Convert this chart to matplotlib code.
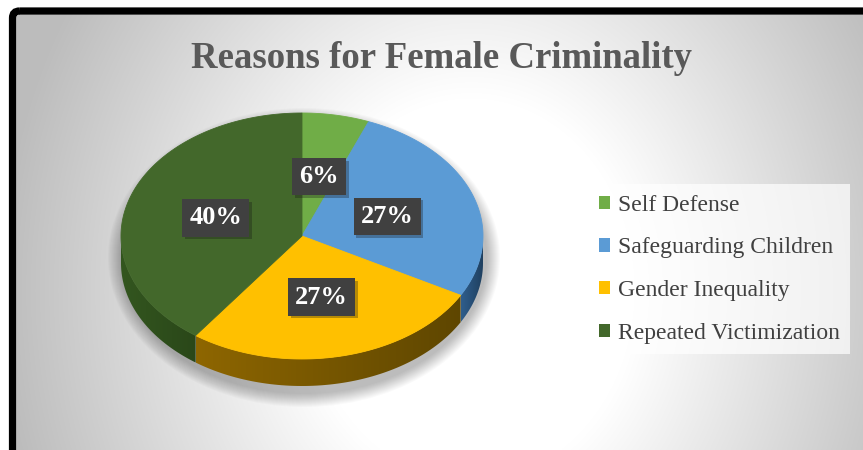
import numpy as np
import matplotlib.pyplot as plt
import matplotlib.patheffects as pe
from matplotlib.patches import Polygon, FancyBboxPatch, Patch, Ellipse
from matplotlib.colors import to_rgb

### Data ######################################################################
categories = ['Self Defense', 'Safeguarding Children', 'Gender Inequality', 'Repeated Victimization']
shares = [6, 27, 27, 40]
top_colors = ['#70AD47', '#5B9BD5', '#FFC000', '#43682B']
# side wall colours (light end, dark end)
side_colors = [('#4A7530', '#365622'), ('#2F5E8C', '#1E3D5C'), ('#8E6600', '#5E4600'), ('#33561F', '#2A4719')]
title = 'Reasons for Female Criminality'

W, H = 863, 450
fig = plt.figure(figsize=(W / 100, H / 100), dpi=100)
ax = fig.add_axes([0, 0, 1, 1])
ax.set_xlim(0, W)
ax.set_ylim(H, 0)
ax.axis('off')

### Background ###############################################################
frame = FancyBboxPatch((12.5, 11), 1000, 600, boxstyle='round,pad=0,rounding_size=7',
                       fc='none', ec='black', lw=5.2, zorder=10)
ax.add_patch(frame)

yy, xx = np.mgrid[0:H, 0:W]
d = np.sqrt(((xx - 470) / 410.0) ** 2 + ((yy - 290) / 480.0) ** 2)
g = 1.0 - 0.21 * np.clip((d - 0.4) / 0.6, 0, 1.25)
bg = ax.imshow(np.dstack([g, g, g]), extent=(0, W, H, 0), zorder=0, interpolation='bilinear')
bg.set_clip_path(frame)

### 3D pie ###################################################################
cx, cy, rx, ry, depth = 302, 236, 181, 123, 27


def pt(a, r=1.0, dy=0.0):
    return cx + r * rx * np.sin(a), cy - r * ry * np.cos(a) + dy


# soft shadow
for k in range(14):
    ax.add_patch(Ellipse((cx + 2, cy + depth / 2 + 8), 2 * rx + 30 - 2 * k, 2 * ry + depth + 26 - 2 * k,
                         fc='black', ec='none', alpha=0.02, zorder=1))

edges = 2 * np.pi * np.cumsum([0] + shares) / sum(shares)

# side walls (front half only)
for i in range(len(shares)):
    a0 = max(edges[i], np.pi / 2)
    a1 = min(edges[i + 1], 3 * np.pi / 2)
    if a0 >= a1:
        continue
    t = np.linspace(a0, a1, 80)
    tx, ty = pt(t)
    bx, by = pt(t[::-1], dy=depth)
    poly = Polygon(np.column_stack([np.r_[tx, bx], np.r_[ty, by]]), closed=True,
                   fc='none', ec='none', zorder=2)
    ax.add_patch(poly)
    c1, c2 = np.array(to_rgb(side_colors[i][0])), np.array(to_rgb(side_colors[i][1]))
    f = np.linspace(0, 1, 256)[None, :, None]
    grad = c1 * (1 - f) + c2 * f
    im = ax.imshow(grad, extent=(tx.min(), tx.max() + 1, cy + ry + depth + 2, cy - 5),
                   zorder=2, aspect='auto', interpolation='bilinear')
    im.set_clip_path(poly)

# top faces
for i in range(len(shares)):
    t = np.linspace(edges[i], edges[i + 1], 120)
    tx, ty = pt(t)
    ax.add_patch(Polygon(np.column_stack([np.r_[cx, tx], np.r_[cy, ty]]), closed=True,
                         fc=top_colors[i], ec=top_colors[i], lw=0.6, zorder=3))

# data labels
for i, s in enumerate(shares):
    mid = (edges[i] + edges[i + 1]) / 2
    lx, ly = pt(mid, 0.5)
    lbl = ax.text(lx, ly + 1, f'{s}%', color='white', fontsize=19, fontweight='bold',
                  family='Liberation Serif', ha='center', va='center', zorder=5,
                  bbox=dict(boxstyle='square,pad=0.27', fc='#404040', ec='none'))
    lbl.get_bbox_patch().set_path_effects([pe.SimplePatchShadow(offset=(2, -2), alpha=0.3),
                                           pe.Normal()])

### Title & legend ###########################################################
ax.text(441, 59, title, ha='center', va='center', fontsize=26.5, fontweight='bold',
        family='Liberation Serif', color='#595959', zorder=6)

handles = [Patch(fc=c, ec='none') for c in top_colors]
leg = ax.legend(handles, categories, loc='upper left', bbox_to_anchor=(588 / W, 1 - 184 / H),
                borderaxespad=0, prop={'family': 'Liberation Serif', 'size': 17},
                labelcolor='#404040', handlelength=0.5, handleheight=0.5, handletextpad=0.3,
                labelspacing=0.92, borderpad=0.45, fancybox=False, framealpha=0.7,
                facecolor='white', edgecolor='none')
leg.set_zorder(6)

fig.savefig('out.png', dpi=100)
